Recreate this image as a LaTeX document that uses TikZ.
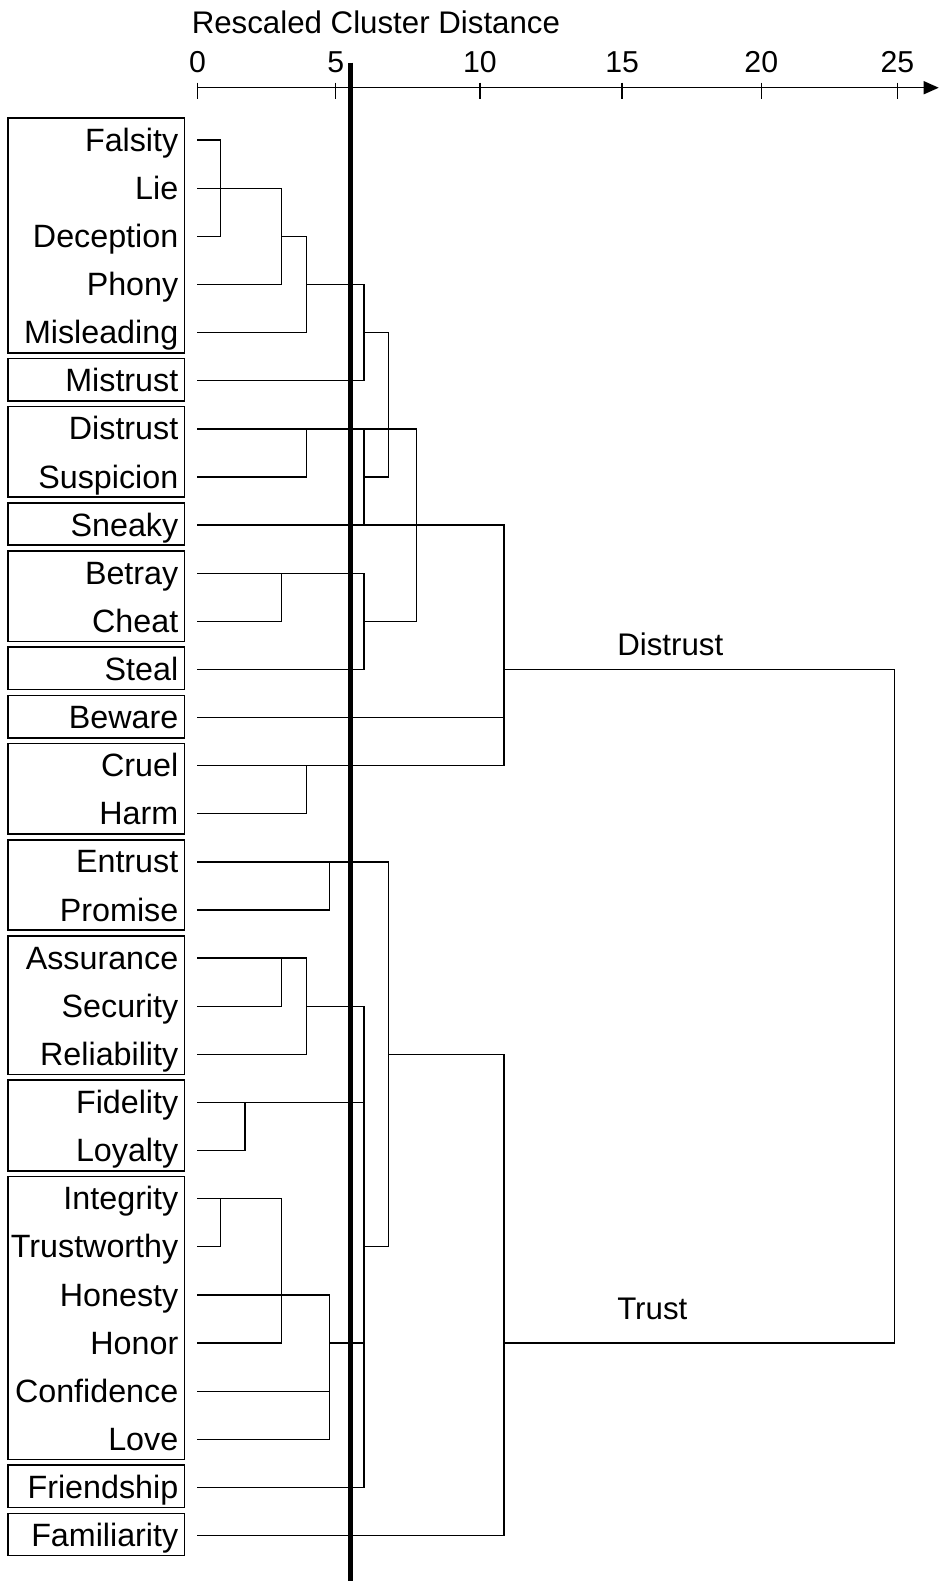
\documentclass[tikz,border=0pt]{standalone}
\usepackage{fontspec}
\setmainfont{Liberation Sans}
\usetikzlibrary{arrows.meta}

\begin{document}
\begin{tikzpicture}[x=1pt,y=-1pt,
  link/.style={line width=1.3pt,line cap=rect},
  frame/.style={draw,line width=1.6pt},
  word/.style={anchor=base east,inner sep=0pt,font=\fontsize{32}{38}\selectfont},
  ticklabel/.style={anchor=base,inner sep=0pt,font=\fontsize{30}{36}\selectfont},
  caption/.style={anchor=base west,inner sep=0pt,font=\fontsize{31}{37}\selectfont},
  cut/.style={line width=5pt}]
\useasboundingbox (0,0) rectangle (931,1568);

% distance axis
\node[caption] (title) at (190,33) {Rescaled Cluster Distance};
\coordinate (ax0) at (196,87);
\coordinate (axend) at (931,87);
\draw[line width=1.4pt,-{Triangle[length=15pt,width=13pt]}] (ax0) -- (axend);
\foreach \v/\x in {0/196,5/333,10/476,15/617,20/755,25/890}{
  \coordinate (t\v) at (\x,87);
  \draw[line width=1.3pt] ([yshift=5pt]t\v) -- ([yshift=-11pt]t\v);
  \node[ticklabel] (tl\v) at (\x,72) {\v};
}

% items, one row each
\foreach \w [count=\i from 0] in {Falsity,Lie,Deception,Phony,Misleading,Mistrust,
  Distrust,Suspicion,Sneaky,Betray,Cheat,Steal,Beware,Cruel,Harm,Entrust,Promise,
  Assurance,Security,Reliability,Fidelity,Loyalty,Integrity,Trustworthy,Honesty,
  Honor,Confidence,Love,Friendship,Familiarity}{
  \pgfmathsetmacro{\yy}{139+47.72*\i}
  \node[word] (w\i) at (177,\yy+11) {\w};
  \coordinate (p\i) at (196,\yy);
  \coordinate (q\i) at (8,\yy);
}

% group frames (y axis points down, so a positive yshift moves up)
\foreach \a/\b in {0/4,5/5,6/7,8/8,9/10,11/11,12/12,13/14,15/16,17/19,20/21,22/27,28/28,29/29}{
  \draw[frame] ([yshift=22pt]q\a) rectangle ([xshift=175pt,yshift=-20pt]q\b);
}

% merge columns
\coordinate (cA) at (219,0);
\coordinate (cB) at (243,0);
\coordinate (cC) at (279,0);
\coordinate (cD) at (304,0);
\coordinate (cE) at (327,0);
\coordinate (cF) at (361,0);
\coordinate (cG) at (385,0);
\coordinate (cH) at (413,0);
\coordinate (cI) at (500,0);
\coordinate (cJ) at (887,0);

% distrust branch
\draw[link] (p0) -- (p0-|cA) -- (p2-|cA) -- (p2);
\draw[link] (p1) -- (p1-|cC) -- (p3-|cC) -- (p3);
\draw[link] (p2-|cC) -- (p2-|cD) -- (p4-|cD) -- (p4);
\draw[link] (p3-|cD) -- (p3-|cF) -- (p5-|cF) -- (p5);
\draw[link] (p4-|cF) -- (p4-|cG) -- (p7-|cG) -- (p7-|cF);
\draw[link] (p6-|cD) -- (p7-|cD) -- (p7);
\draw[link] (p6) -- (p6-|cH) -- (p10-|cH) -- (p10-|cF);
\draw[link] (p6-|cF) -- (p8-|cF) -- (p8);
\draw[link] (p9-|cC) -- (p10-|cC) -- (p10);
\draw[link] (p9) -- (p9-|cF) -- (p11-|cF) -- (p11);
\draw[link] (p8-|cF) -- (p8-|cI) -- (p13-|cI) -- (p13);
\draw[link] (p12) -- (p12-|cI);
\draw[link] (p13-|cD) -- (p14-|cD) -- (p14);

% trust branch
\draw[link] (p15) -- (p15-|cG) -- (p23-|cG) -- (p23-|cF);
\draw[link] (p15-|cE) -- (p16-|cE) -- (p16);
\draw[link] (p17) -- (p17-|cD) -- (p19-|cD) -- (p19);
\draw[link] (p17-|cC) -- (p18-|cC) -- (p18);
\draw[link] (p18-|cD) -- (p18-|cF) -- (p28-|cF) -- (p28);
\draw[link] (p20) -- (p20-|cF);
\draw[link] (p20-|cB) -- (p21-|cB) -- (p21);
\draw[link] (p22) -- (p22-|cC) -- (p25-|cC) -- (p25);
\draw[link] (p22-|cA) -- (p23-|cA) -- (p23);
\draw[link] (p24) -- (p24-|cE) -- (p27-|cE) -- (p27);
\draw[link] (p26) -- (p26-|cE);
\draw[link] (p25-|cE) -- (p25-|cF);
\draw[link] (p19-|cG) -- (p19-|cI) -- (p29-|cI) -- (p29);

% final join of the two branches
\draw[link] (p11-|cI) -- (p11-|cJ) -- (p25-|cJ) -- (p25-|cI);
\node[caption] (lblD) at (612,650) {Distrust};
\node[caption] (lblT) at (612,1309) {Trust};

% cut line
\coordinate (cuttop) at (348,62);
\coordinate (cutbot) at (348,1568);
\draw[cut] (cuttop) -- (cutbot);
\end{tikzpicture}
\end{document}
